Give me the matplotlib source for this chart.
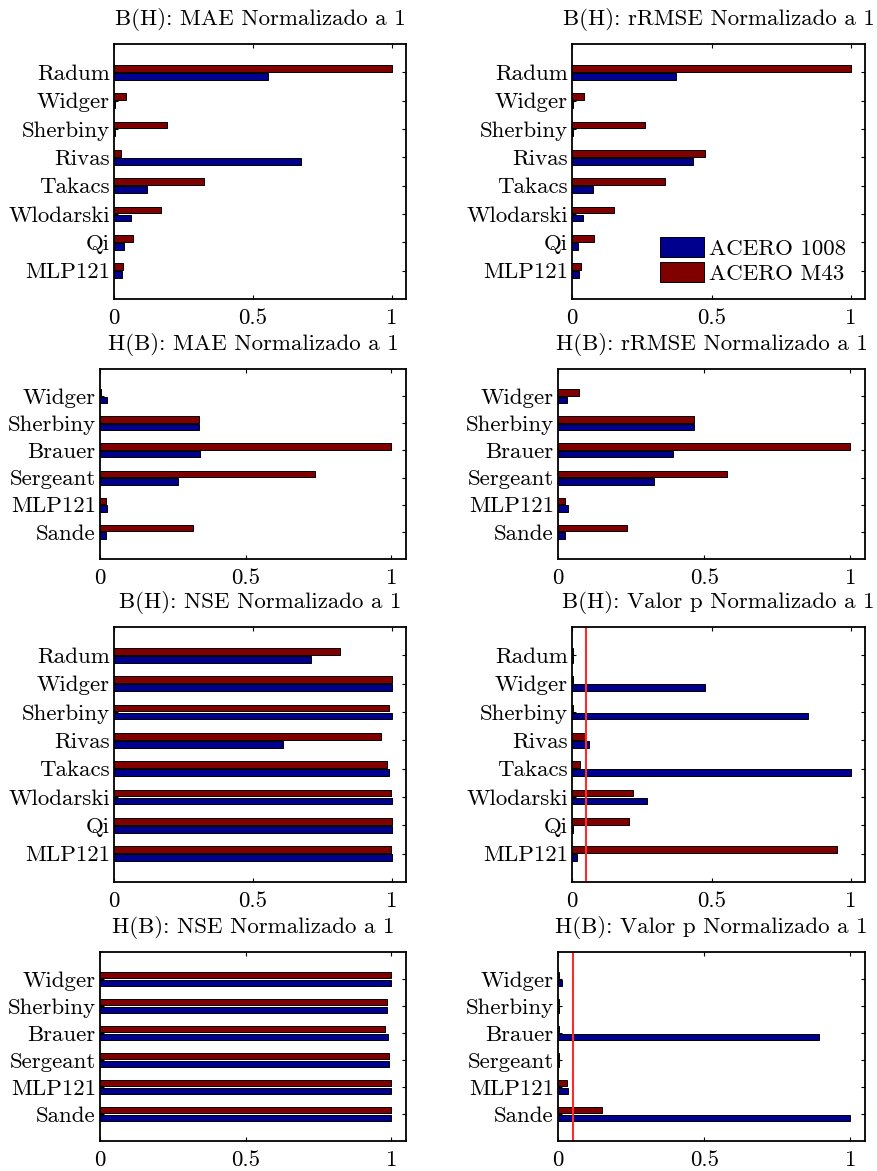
import numpy as np
import matplotlib
matplotlib.use("Agg")
import matplotlib.pyplot as plt

# fonte parecida com a do LaTeX (cmr10 vem com o matplotlib)
plt.rcParams["font.family"] = ["cmr10", "DejaVu Serif"]
plt.rcParams["axes.formatter.use_mathtext"] = True

LARGURA_PX, ALTURA_PX, DPI = 877, 1171, 100
FONTE = 16.5

# Cores (padrão jet do MATLAB para 2 séries)
COR_1008 = "#00008f"
COR_M43 = "#800000"
COR_LIMITE = "#ff2a2a"

LEGENDAS = ["ACERO 1008", "ACERO M43"]

# modelos de baixo para cima (como no barh)
MODELOS_BH = ["MLP121", "Qi", "Wlodarski", "Takacs", "Rivas", "Sherbiny", "Widger", "Radum"]
MODELOS_HB = ["Sande", "MLP121", "Sergeant", "Brauer", "Sherbiny", "Widger"]

# B(H)
MAE_BH_1008 = [0.028, 0.036, 0.061, 0.120, 0.671, 0.004, 0.005, 0.553]
MAE_BH_M43 = [0.031, 0.068, 0.168, 0.325, 0.024, 0.189, 0.043, 1.0]
RRMSE_BH_1008 = [0.025, 0.022, 0.038, 0.077, 0.433, 0.004, 0.004, 0.374]
RRMSE_BH_M43 = [0.031, 0.078, 0.150, 0.334, 0.476, 0.260, 0.042, 1.0]
NSE_BH_1008 = [1.0, 1.0, 0.999, 0.989, 0.607, 1.0, 1.0, 0.707]
NSE_BH_M43 = [0.995, 1.0, 0.995, 0.980, 0.959, 0.988, 1.0, 0.814]
PVAL_BH_1008 = [0.019, 0.003, 0.270, 1.0, 0.062, 0.845, 0.476, 0.002]
PVAL_BH_M43 = [0.950, 0.203, 0.218, 0.028, 0.050, 0.002, 0.002, 0.002]

# H(B)
MAE_HB_1008 = [0.019, 0.025, 0.269, 0.343, 0.338, 0.025]
MAE_HB_M43 = [0.320, 0.019, 0.738, 1.0, 0.338, 0.002]
RRMSE_HB_1008 = [0.025, 0.033, 0.327, 0.395, 0.464, 0.032]
RRMSE_HB_M43 = [0.235, 0.025, 0.577, 1.0, 0.464, 0.072]
NSE_HB_1008 = [1.0, 1.0, 0.992, 0.989, 0.985, 1.0]
NSE_HB_M43 = [1.0, 1.0, 0.992, 0.979, 0.985, 1.0]
PVAL_HB_1008 = [1.0, 0.033, 0.002, 0.893, 0.002, 0.015]
PVAL_HB_M43 = [0.152, 0.032, 0.002, 0.002, 0.002, 0.002]

LIMITE_P = 0.05


def caixa(esq, topo, dir_, base):
    # converte caixa em pixels (origem no topo) para fração da figura
    return [esq / LARGURA_PX, 1 - base / ALTURA_PX,
            (dir_ - esq) / LARGURA_PX, (base - topo) / ALTURA_PX]


def painel(fig, rect, titulo, modelos, v1008, vm43, limite=False, legenda=False):
    ax = fig.add_axes(rect)
    y = np.arange(1, len(modelos) + 1)
    b1 = ax.barh(y - 0.14, v1008, height=0.24, color=COR_1008, edgecolor="black", linewidth=0.7)
    b2 = ax.barh(y + 0.14, vm43, height=0.24, color=COR_M43, edgecolor="black", linewidth=0.7)
    if limite:
        ax.axvline(LIMITE_P, color=COR_LIMITE, linewidth=1.5)

    ax.set_xlim(0, 1.05)
    ax.set_ylim(0, len(modelos) + 1)
    ax.set_xticks([0, 0.5, 1])
    ax.set_xticklabels(["0", "0.5", "1"], fontsize=FONTE)
    ax.set_yticks(y)
    ax.set_yticklabels(modelos, fontsize=FONTE)
    ax.tick_params(direction="in", length=3, width=0.8, top=True, right=True)
    ax.tick_params(axis="x", pad=7)
    ax.tick_params(axis="y", pad=3)
    for s in ax.spines.values():
        s.set_linewidth(1.3)
    ax.set_title(titulo, fontsize=FONTE, pad=13.5)

    if legenda:
        ax.legend([b1, b2], LEGENDAS, loc="lower right", bbox_to_anchor=(0.937, 0.06),
                  frameon=False, fontsize=FONTE, borderpad=0, borderaxespad=0,
                  handlelength=1.9, handleheight=1.0, handletextpad=0.25, labelspacing=0.12)
    return ax


def main():
    fig = plt.figure(figsize=(LARGURA_PX / DPI, ALTURA_PX / DPI), dpi=DPI)

    painel(fig, caixa(114, 44, 406, 299), "B(H): MAE Normalizado a 1",
           MODELOS_BH, MAE_BH_1008, MAE_BH_M43)
    painel(fig, caixa(572, 44, 865, 299), "B(H): rRMSE Normalizado a 1",
           MODELOS_BH, RRMSE_BH_1008, RRMSE_BH_M43, legenda=True)

    painel(fig, caixa(100, 369, 406, 559), "H(B): MAE Normalizado a 1",
           MODELOS_HB, MAE_HB_1008, MAE_HB_M43)
    painel(fig, caixa(558, 369, 865, 559), "H(B): rRMSE Normalizado a 1",
           MODELOS_HB, RRMSE_HB_1008, RRMSE_HB_M43)

    painel(fig, caixa(114, 627, 406, 882), "B(H): NSE Normalizado a 1",
           MODELOS_BH, NSE_BH_1008, NSE_BH_M43)
    painel(fig, caixa(572, 627, 865, 882), "B(H): Valor p Normalizado a 1",
           MODELOS_BH, PVAL_BH_1008, PVAL_BH_M43, limite=True)

    painel(fig, caixa(100, 952, 406, 1141), "H(B): NSE Normalizado a 1",
           MODELOS_HB, NSE_HB_1008, NSE_HB_M43)
    painel(fig, caixa(558, 952, 865, 1141), "H(B): Valor p Normalizado a 1",
           MODELOS_HB, PVAL_HB_1008, PVAL_HB_M43, limite=True)

    fig.savefig("out.png", dpi=DPI)
    plt.close(fig)


if __name__ == "__main__":
    main()
